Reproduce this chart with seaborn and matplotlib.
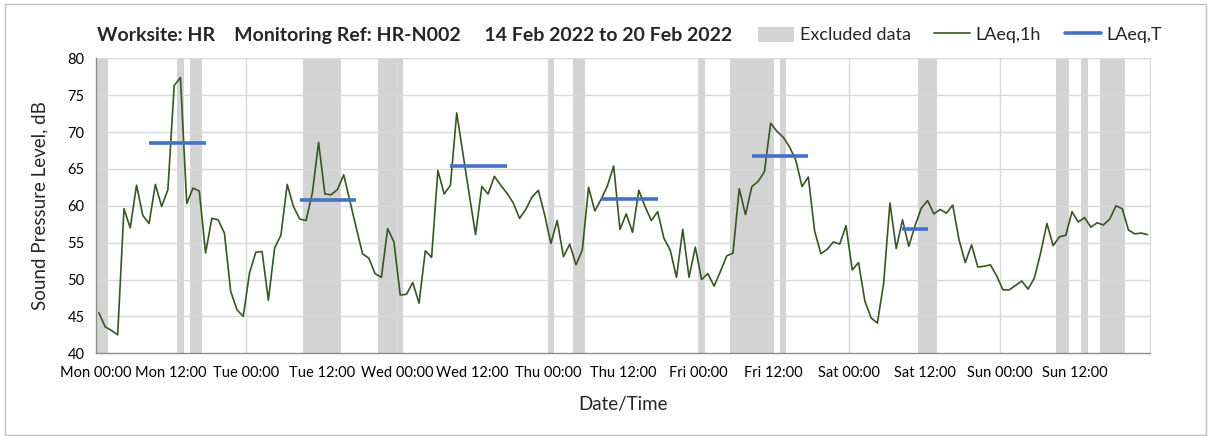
import numpy as np
import pandas as pd
import matplotlib
matplotlib.use("Agg")
import matplotlib.pyplot as plt
import seaborn as sns
from matplotlib.patches import Patch, Rectangle
from matplotlib.lines import Line2D

# Hourly LAeq,1h values (dB), Mon 00:00 to Sun 23:00
laeq_1h = [
    45.5, 43.6, 43.1, 42.5, 59.6, 57.0, 62.8, 58.7, 57.6, 62.9, 59.9, 62.2,
    76.3, 77.4, 60.3, 62.4, 62.0, 53.6, 58.3, 58.1, 56.3, 48.4, 45.9, 45.0,
    50.9, 53.7, 53.8, 47.2, 54.3, 56.0, 62.9, 59.9, 58.2, 58.0, 61.7, 68.6,
    61.6, 61.5, 62.2, 64.2, 60.6, 57.0, 53.5, 52.9, 50.8, 50.3, 56.9, 55.1,
    47.9, 48.0, 49.6, 46.8, 53.9, 53.0, 64.8, 61.6, 62.8, 72.6, 67.0, 61.5,
    56.1, 62.6, 61.6, 64.0, 62.8, 61.7, 60.4, 58.3, 59.5, 61.2, 62.1, 58.8,
    54.9, 58.0, 53.1, 54.8, 52.0, 54.0, 62.5, 59.3, 60.9, 62.7, 65.4, 56.8,
    58.9, 56.4, 62.1, 59.9, 58.0, 59.2, 55.6, 54.0, 50.3, 56.8, 50.3, 54.4,
    50.0, 50.8, 49.1, 51.1, 53.2, 53.6, 62.3, 58.8, 62.6, 63.3, 64.6, 71.2,
    70.1, 69.3, 68.0, 66.2, 62.6, 63.9, 56.6, 53.5, 54.1, 55.1, 54.8, 57.3,
    51.3, 52.3, 47.1, 44.8, 44.1, 49.5, 60.4, 54.2, 58.1, 54.5, 57.3, 59.7,
    60.7, 58.9, 59.5, 59.0, 60.1, 55.4, 52.3, 54.7, 51.7, 51.8, 52.0, 50.5,
    48.6, 48.6, 49.2, 49.8, 48.7, 50.2, 53.6, 57.6, 54.6, 55.8, 56.0, 59.2,
    57.8, 58.4, 57.1, 57.7, 57.4, 58.2, 60.0, 59.6, 56.7, 56.2, 56.3, 56.1,
]

# Daytime LAeq,T: first hour index, last hour index, level (dB)
laeq_t_start = [8, 32, 56, 80, 104, 128]
laeq_t_end = [17, 41, 65, 89, 113, 132]
laeq_t_level = [68.5, 60.8, 65.4, 60.9, 66.8, 56.8]

# Excluded periods, in hours from Mon 00:00
excluded_start = [0, 13, 15, 33, 45, 72, 76, 96, 101, 109, 131, 153, 157, 160]
excluded_end = [2, 14, 17, 39, 49, 73, 78, 97, 108, 110, 134, 155, 158, 164]

tick_labels = [
    "Mon 00:00", "Mon 12:00", "Tue 00:00", "Tue 12:00", "Wed 00:00",
    "Wed 12:00", "Thu 00:00", "Thu 12:00", "Fri 00:00", "Fri 12:00",
    "Sat 00:00", "Sat 12:00", "Sun 00:00", "Sun 12:00", "",
]

title_text = "Worksite: HR    Monitoring Ref: HR-N002     14 Feb 2022 to 20 Feb 2022"

sns.set_theme(style="white")
plt.rcParams["font.family"] = ["Lato", "DejaVu Sans"]

GREEN = "#375623"
BLUE = "#4472C4"
BAND = "#D3D3D3"
GRID = "#D9D9D9"
AXIS = "#8C8C8C"

hourly = pd.DataFrame({
    "hour": np.arange(len(laeq_1h)) + 0.5,
    "level": laeq_1h,
})

rows = []
for k, (s, e, v) in enumerate(zip(laeq_t_start, laeq_t_end, laeq_t_level)):
    for h in range(s, e + 1):
        rows.append({"period": k, "hour": h + 0.5, "level": v})
periods = pd.DataFrame(rows)

fig = plt.figure(figsize=(12.08, 4.36), dpi=100)
ax = fig.add_axes([95.7 / 1208, 1 - 353.3 / 436, (1150.5 - 95.7) / 1208, (353.3 - 58.3) / 436])

for s, e in zip(excluded_start, excluded_end):
    ax.axvspan(s, e, color=BAND, lw=0, zorder=0.5)

sns.lineplot(data=hourly, x="hour", y="level", color=GREEN, lw=1.2, ax=ax, zorder=3)
sns.lineplot(data=periods, x="hour", y="level", units="period", estimator=None,
             color=BLUE, lw=2.6, ax=ax, zorder=4, solid_capstyle="butt")

ax.set_xlim(0, 168)
ax.set_ylim(40, 80)
ax.set_yticks(np.arange(40, 81, 5))
ax.set_xticks(np.arange(0, 169, 12))
ax.set_xticklabels(tick_labels)

# grid: horizontal every 5 dB, vertical at each midnight
for y in np.arange(45, 81, 5):
    ax.axhline(y, color=GRID, lw=1.0, zorder=1)
for x in np.arange(24, 169, 24):
    ax.axvline(x, color=GRID, lw=1.0, zorder=1)

for side in ["top", "right"]:
    ax.spines[side].set_visible(False)
for side in ["left", "bottom"]:
    ax.spines[side].set_color(AXIS)
    ax.spines[side].set_linewidth(1.0)

ax.tick_params(axis="both", which="major", direction="out", length=5, width=1.0,
               color=AXIS, labelsize=10.5, labelcolor="#000000", pad=3)
ax.tick_params(axis="x", pad=4)

ax.set_xlabel("Date/Time", fontsize=13.5, labelpad=12)
ax.set_ylabel("Sound Pressure Level, dB", fontsize=13.5, labelpad=14)

fig.text(97 / 1208, 1 - 35 / 436, title_text, fontsize=14, fontweight="bold",
         ha="left", va="center")

handles = [
    Patch(facecolor=BAND, edgecolor="none"),
    Line2D([], [], color=GREEN, lw=1.2),
    Line2D([], [], color=BLUE, lw=2.6),
]
labels = ["Excluded data", "LAeq,1h", "LAeq,T"]
fig.legend(handles, labels, loc="center right", bbox_to_anchor=(1178 / 1208, 1 - 35 / 436),
           ncol=3, frameon=False, fontsize=13, handlelength=2.0, handleheight=0.9,
           handletextpad=0.3, columnspacing=1.3)

fig.patches.append(Rectangle((5 / 1208, 1 / 436), 1201 / 1208, 431 / 436,
                             transform=fig.transFigure, fill=False,
                             edgecolor="#BFBFBF", lw=1.0))

fig.savefig("out.png", dpi=100)
